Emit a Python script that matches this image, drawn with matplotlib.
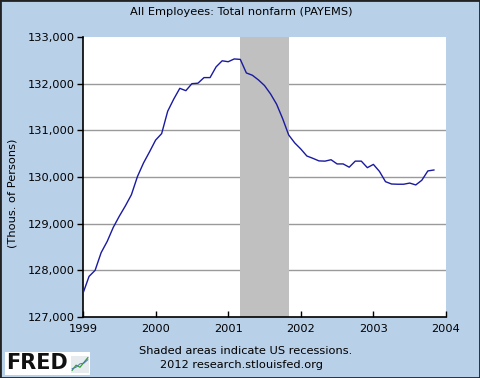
import numpy as np
import matplotlib.pyplot as plt
from matplotlib.patches import Rectangle

# monthly values, Jan 1999 .. Nov 2003 (thousands of persons)
payems = [127507, 127870, 128000, 128380, 128620, 128920, 129160, 129380,
          129620, 130010, 130300, 130540,
          130790, 130930, 131410, 131670, 131900, 131850, 132000, 132010,
          132130, 132130, 132360, 132490,
          132470, 132530, 132520, 132230, 132180, 132080, 131960, 131780,
          131560, 131250, 130900, 130730,
          130600, 130450, 130400, 130345, 130340, 130370, 130280, 130280,
          130210, 130340, 130340, 130200,
          130270, 130120, 129900, 129850, 129845, 129845, 129870, 129830,
          129930, 130130, 130150]
start_year = 1999
recession = (2001 + 2 / 12, 2001 + 10 / 12)   # Mar 2001 - Nov 2001
year_ticks = [1999, 2000, 2001, 2002, 2003, 2004]
y_ticks = [127000, 128000, 129000, 130000, 131000, 132000, 133000]

bg = '#b9d0e9'
fs = 8.2
t = start_year + np.arange(len(payems)) / 12

fig = plt.figure(figsize=(4.8, 3.78), dpi=100, facecolor=bg)
ax = fig.add_axes([83 / 480, 1 - 317 / 378, 363 / 480, 280 / 378])
ax.set_facecolor('white')

ax.axvspan(*recession, color='#c0c0c0', lw=0, zorder=2)
for v in y_ticks[1:-1]:
    ax.axhline(v, color='#9a9a9a', lw=1, zorder=1)
ax.plot(t, payems, color='#1a1aa0', lw=1, zorder=3)

ax.set_xlim(1999, 2004)
ax.set_ylim(127000, 133000)
ax.set_xticks(year_ticks)
ax.set_yticks(y_ticks)
ax.set_yticklabels([f'{v:,}' for v in y_ticks])
ax.tick_params(axis='x', direction='in', length=4, width=1, labelsize=fs,
               pad=5, colors='black')
ax.tick_params(axis='y', direction='out', length=4, width=1, labelsize=fs,
               pad=2)
for s in ['top', 'right']:
    ax.spines[s].set_visible(False)
for s in ['left', 'bottom']:
    ax.spines[s].set_linewidth(1.2)
    ax.spines[s].set_color('black')

fig.text(241 / 480, 1 - 12 / 378, 'All Employees: Total nonfarm (PAYEMS)',
         ha='center', va='center', fontsize=fs)
fig.text(13 / 480, 1 - 193 / 378, '(Thous. of Persons)', rotation=90,
         ha='center', va='center', fontsize=fs)
fig.text(246 / 480, 1 - 351 / 378, 'Shaded areas indicate US recessions.',
         ha='center', va='center', fontsize=fs)
fig.text(242 / 480, 1 - 365 / 378, '2012 research.stlouisfed.org',
         ha='center', va='center', fontsize=fs)

# FRED logo
fig.patches.append(Rectangle((5 / 480, 1 - 375 / 378), 85 / 480, 23 / 378,
                             transform=fig.transFigure, facecolor='white',
                             edgecolor='none', zorder=-1))
fig.text(6 / 480, 1 - 363 / 378, 'FRED', ha='left', va='center',
         fontsize=15, fontweight='heavy', color='#111111')
icon = fig.add_axes([71 / 480, 1 - 373 / 378, 18 / 480, 17 / 378])
icon.set_facecolor('#e6ecee')
icon.plot([0, 1, 2, 3, 4], [0.3, 1.8, 1.2, 2.6, 4], color='#3c9a3c', lw=0.9)
icon.plot([0, 1, 2, 3, 4], [0.8, 1.2, 2.2, 2.4, 3.4], color='#4a78b8', lw=0.7)
icon.set_xlim(-0.3, 4.3)
icon.set_ylim(-0.5, 4.5)
icon.set_xticks([])
icon.set_yticks([])
for s in icon.spines.values():
    s.set_visible(False)

# outer border
fig.patches.append(Rectangle((0, 0), 1, 1, transform=fig.transFigure,
                             fill=False, edgecolor='#222222', lw=2))

fig.savefig('out.png', dpi=100, facecolor=bg)
